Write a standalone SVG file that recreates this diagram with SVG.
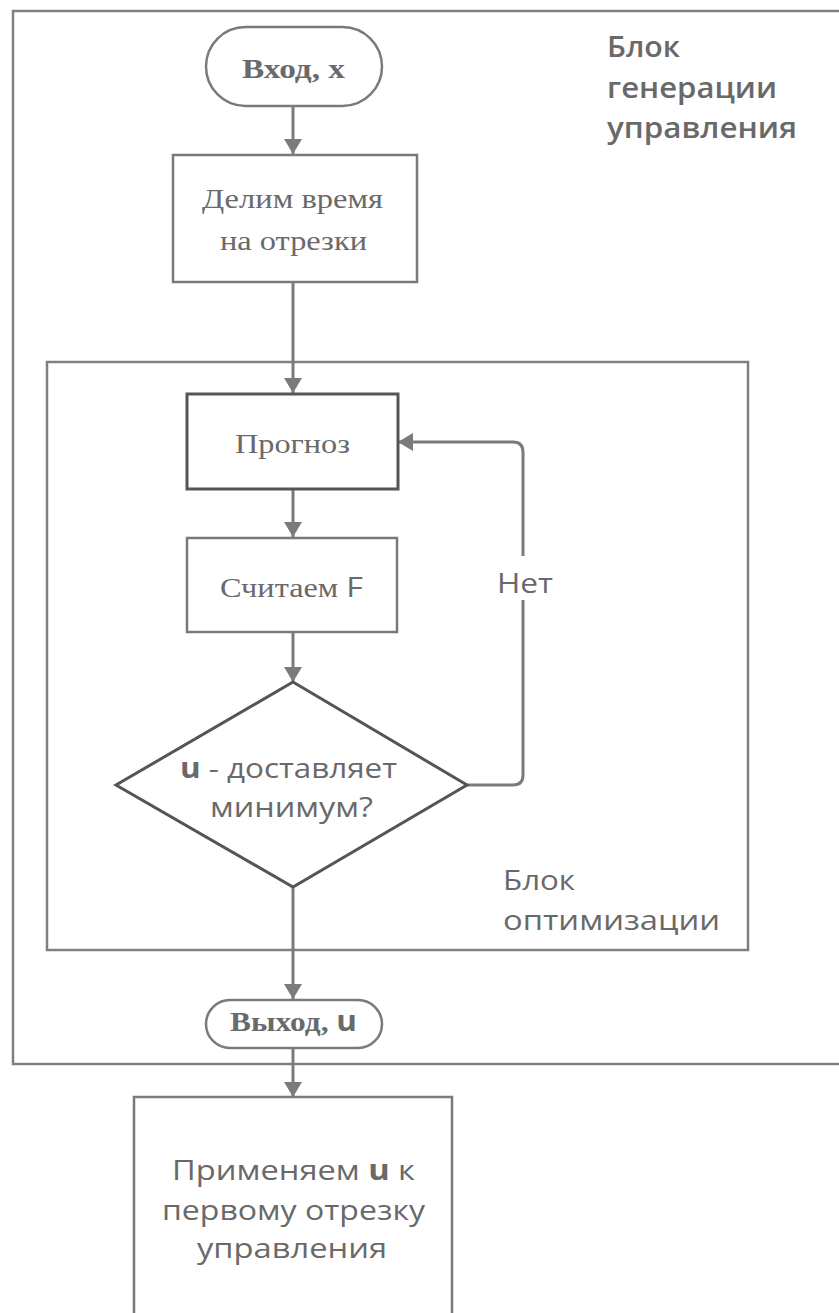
<svg xmlns="http://www.w3.org/2000/svg" width="839" height="1313" viewBox="0 0 839 1313">
<defs>
<marker id="ah" viewBox="0 0 10 12" refX="10" refY="6" markerWidth="5" markerHeight="6" orient="auto" markerUnits="strokeWidth">
<path d="M0,0 L10,6 L0,12 z" fill="#7b7b7b"/>
</marker>
</defs>
<style>
.box{fill:#fff;stroke:#7a7a7a;stroke-width:2.5}
.frame{fill:none;stroke:#808080;stroke-width:2.5}
.dark{fill:#fff;stroke:#555;stroke-width:3}
.con{fill:none;stroke:#7b7b7b;stroke-width:3}
.serif{font-family:"Liberation Serif","Times New Roman",serif;fill:#6a6a6a;font-size:28px}
.sans{font-family:"Open Sans","Noto Sans",sans-serif;fill:#696969;font-size:28px}
.c{text-anchor:middle}
</style>
<rect width="839" height="1313" fill="#fff"/>
<g id="outer-block">
<rect class="frame" x="13" y="11" width="840" height="1053"/>
<text class="sans" x="607" y="57" font-weight="600" fill="#555" textLength="73" lengthAdjust="spacingAndGlyphs">Блок</text>
<text class="sans" x="607" y="98" font-weight="600" fill="#555" textLength="170" lengthAdjust="spacingAndGlyphs">генерации</text>
<text class="sans" x="607" y="138" font-weight="600" fill="#555" textLength="190" lengthAdjust="spacingAndGlyphs">управления</text>
</g>
<g id="opt-block">
<rect class="frame" x="47" y="362" width="701" height="588"/>
<text class="sans" x="503" y="890" textLength="72" lengthAdjust="spacingAndGlyphs">Блок</text>
<text class="sans" x="503" y="930" textLength="217" lengthAdjust="spacingAndGlyphs">оптимизации</text>
</g>
<g id="connectors">
<line class="con" x1="293" y1="107" x2="293" y2="154" marker-end="url(#ah)"/>
<line class="con" x1="293" y1="283" x2="293" y2="393" marker-end="url(#ah)"/>
<line class="con" x1="293" y1="490" x2="293" y2="537" marker-end="url(#ah)"/>
<line class="con" x1="293" y1="633" x2="293" y2="682" marker-end="url(#ah)"/>
<line class="con" x1="293" y1="888" x2="293" y2="999" marker-end="url(#ah)"/>
<line class="con" x1="293" y1="1049" x2="293" y2="1097" marker-end="url(#ah)"/>
<path class="con" d="M467,785 H513 Q523,785 523,775 V452 Q523,442 513,442 H398" marker-end="url(#ah)"/>
<rect x="495" y="556" width="60" height="44" fill="#fff"/>
<text class="sans c" x="525" y="593" textLength="56" lengthAdjust="spacingAndGlyphs">Нет</text>
</g>
<g id="start">
<rect class="box" x="206" y="27" width="176" height="79" rx="39.5"/>
<text class="serif c" x="293.5" y="78" font-weight="bold" textLength="103" lengthAdjust="spacingAndGlyphs">Вход, x</text>
</g>
<g id="split">
<rect class="box" x="173" y="155" width="244" height="127"/>
<text class="serif c" x="292.5" y="208" textLength="181" lengthAdjust="spacingAndGlyphs">Делим время</text>
<text class="serif c" x="293.5" y="250" textLength="147" lengthAdjust="spacingAndGlyphs">на отрезки</text>
</g>
<g id="forecast">
<rect class="dark" x="187" y="394" width="211" height="95"/>
<text class="serif c" x="292.5" y="453" textLength="115" lengthAdjust="spacingAndGlyphs">Прогноз</text>
</g>
<g id="calcF">
<rect class="box" x="187" y="538" width="210" height="94"/>
<text class="serif c" x="291.5" y="597" textLength="143" lengthAdjust="spacingAndGlyphs">Считаем <tspan font-family="Open Sans, sans-serif">F</tspan></text>
</g>
<g id="decision">
<polygon class="dark" points="293,682 467,785 293,887 116,785" stroke-width="2.5"/>
<text class="sans c" x="288.5" y="778" textLength="217" lengthAdjust="spacingAndGlyphs"><tspan font-weight="bold">u</tspan> - доставляет</text>
<text class="sans c" x="291.5" y="817" textLength="163" lengthAdjust="spacingAndGlyphs">минимум?</text>
</g>
<g id="end">
<rect class="box" x="206" y="1000" width="176" height="48" rx="24"/>
<text class="serif c" x="293.5" y="1031" font-weight="bold" textLength="127" lengthAdjust="spacingAndGlyphs">Выход, <tspan font-family="Open Sans, sans-serif">u</tspan></text>
</g>
<g id="apply">
<rect class="box" x="134" y="1097" width="318" height="230"/>
<text class="sans c" x="293.5" y="1180" textLength="243" lengthAdjust="spacingAndGlyphs">Применяем <tspan font-weight="bold">u</tspan> к</text>
<text class="sans c" x="293.5" y="1220" textLength="263" lengthAdjust="spacingAndGlyphs">первому отрезку</text>
<text class="sans c" x="292" y="1258" textLength="190" lengthAdjust="spacingAndGlyphs">управления</text>
</g>
</svg>
